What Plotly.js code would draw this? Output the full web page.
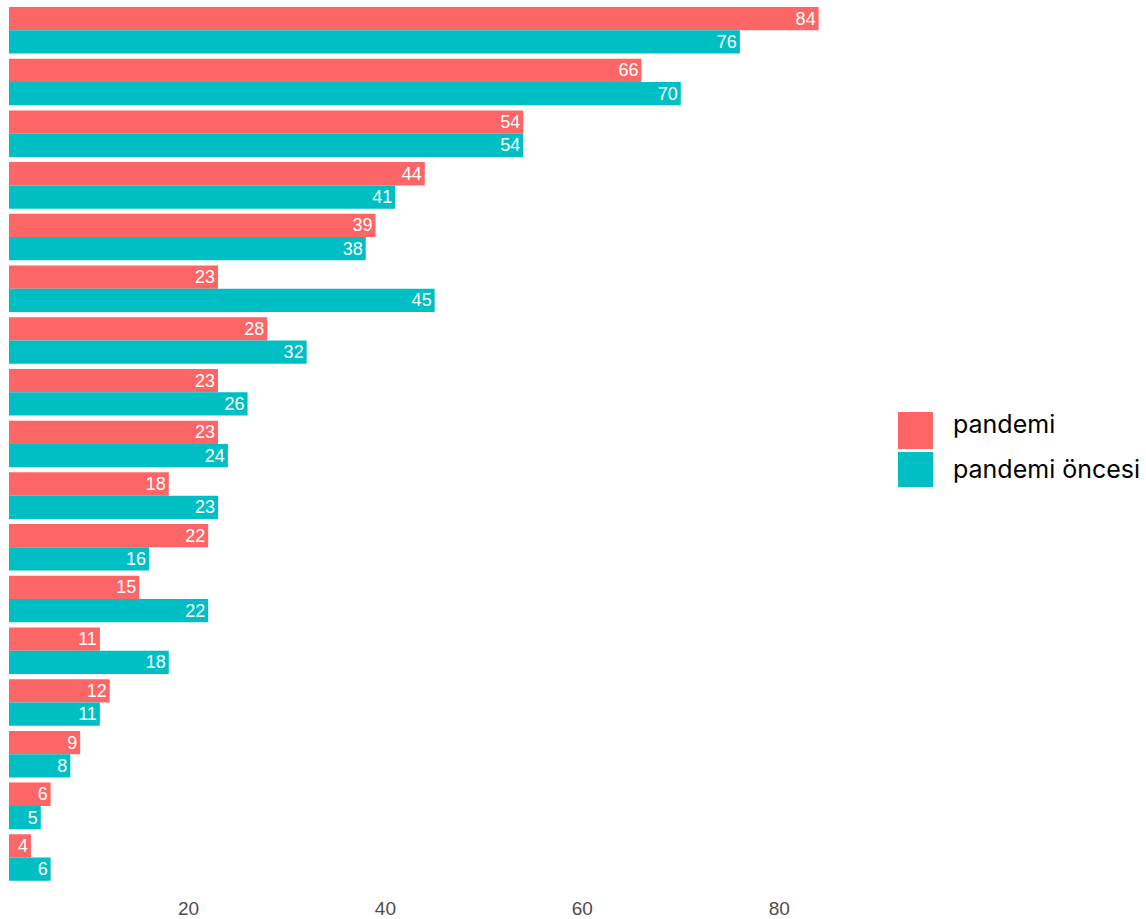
<!DOCTYPE html>
<html>
<head>
<meta charset="utf-8">
<script src="https://cdn.plot.ly/plotly-3.0.1.min.js"></script>
<style>html,body{margin:0;padding:0;background:#fff;}#chart{width:1146px;height:919px;}</style>
</head>
<body>
<div id="chart"></div>
<script>
// Category labels are not shown in the reference (hidden axis); ranks used as ids.
const categories = ["1","2","3","4","5","6","7","8","9","10","11","12","13","14","15","16","17"];
const pandemi = [84, 66, 54, 44, 39, 23, 28, 23, 23, 18, 22, 15, 11, 12, 9, 6, 4];
const pandemiOncesi = [76, 70, 54, 41, 38, 45, 32, 26, 24, 23, 16, 22, 18, 11, 8, 5, 6];
const seriesNames = ["pandemi", "pandemi öncesi"];
const colors = ["#FD6666", "#00BFC4"];
const xTicks = [20, 40, 60, 80];

const mk = (vals, i) => ({
  type: "bar", orientation: "h",
  x: vals, y: categories, name: seriesNames[i],
  marker: {color: colors[i], line: {width: 0}},
  text: vals.map(String), textposition: "inside", insidetextanchor: "end",
  textangle: 0, constraintext: "none",
  textfont: {color: "#ffffff", size: 18, family: "Liberation Sans, Arial, sans-serif"},
  hoverinfo: "x+name", showlegend: false
});

const data = [mk(pandemi, 0), mk(pandemiOncesi, 1)];

const plotW = 1146 - 9 - 286, plotH = 919 - 34;
const px = x => (x - 9) / plotW;
const py = y => 1 - y / plotH;

const layout = {
  width: 1146, height: 919,
  margin: {l: 9, r: 286, t: 0, b: 34},
  paper_bgcolor: "#ffffff", plot_bgcolor: "#ffffff",
  barmode: "group", bargap: 0.1, bargroupgap: 0,
  font: {family: "Liberation Sans, Arial, sans-serif"},
  xaxis: {
    range: [1.77, 88.2], tickvals: xTicks, ticktext: xTicks.map(String),
    showgrid: false, zeroline: false, showline: false,
    ticks: "outside", ticklen: 6, tickcolor: "rgba(0,0,0,0)",
    tickfont: {size: 19, color: "#4D4D4D"}
  },
  yaxis: {
    type: "category", range: [16.53, -0.585],
    showticklabels: false, showgrid: false, zeroline: false, showline: false, ticks: ""
  },
  shapes: [
    {type: "rect", xref: "paper", yref: "paper", x0: px(898), x1: px(933), y0: py(449), y1: py(412), fillcolor: colors[0], line: {width: 0}},
    {type: "rect", xref: "paper", yref: "paper", x0: px(898), x1: px(933), y0: py(487), y1: py(452), fillcolor: colors[1], line: {width: 0}}
  ],
  annotations: seriesNames.map((n, i) => ({
    xref: "paper", yref: "paper", x: px(951), y: py(i === 0 ? 424 : 469),
    xanchor: "left", yanchor: "middle", showarrow: false, text: n,
    font: {size: 25, color: "#000000", family: "Inter, Liberation Sans, Arial, sans-serif"}
  }))
};

Plotly.newPlot("chart", data, layout, {displayModeBar: false, staticPlot: true});
</script>
</body>
</html>
